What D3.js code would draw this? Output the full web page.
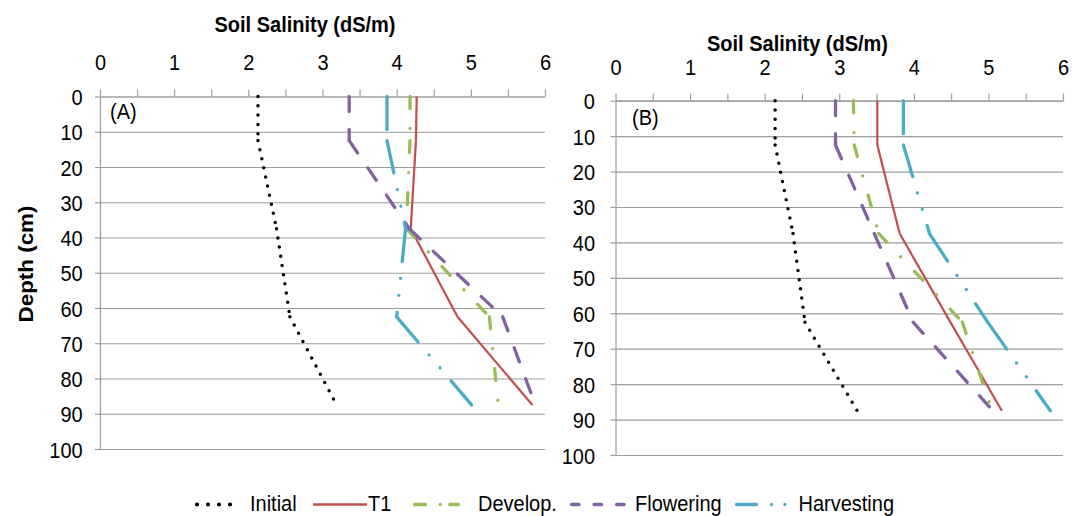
<!DOCTYPE html>
<html lang="en">
<head>
  <meta charset="utf-8">
  <script src="https://d3js.org/d3.v7.min.js"></script>
  <style>
    body { margin: 0; background: #fff; }
    svg text { font-family: "Liberation Sans", Arial, sans-serif; fill: #000; }
  </style>
</head>
<body>
  <svg width="1072" height="516"></svg>
  <script>
    // depths (cm) where salinity was sampled
    var depth = [0, 12.5, 37.5, 62.5, 87.5];
    var xTicks = [0, 1, 2, 3, 4, 5, 6];
    var yTicks = [0, 10, 20, 30, 40, 50, 60, 70, 80, 90, 100];
    var seriesNames = ["Initial", "T1", "Develop.", "Flowering", "Harvesting"];

    // panel A values (dS/m)
    var initialA = [2.13, 2.13, 2.38, 2.56, 3.19];
    var t1A = [4.27, 4.26, 4.19, 4.82, 5.83];
    var developA = [4.18, 4.18, 4.13, 5.25, 5.37];
    var floweringA = [3.36, 3.36, 4.17, 5.43, 5.87];
    var harvestingA = [3.87, 3.87, 4.12, 4.00, 5.01];

    // panel B values (dS/m)
    var initialB = [2.14, 2.14, 2.38, 2.54, 3.24];
    var t1B = [3.51, 3.51, 3.81, 4.49, 5.18];
    var developB = [3.19, 3.20, 3.53, 4.65, 5.05];
    var floweringB = [2.95, 2.95, 3.47, 3.99, 5.06];
    var harvestingB = [3.86, 3.86, 4.21, 4.99, 5.83];

    var colors = ["#000000", "#C0504D", "#9BBB59", "#8064A2", "#4BACC6"];
    var widths = [3.5, 2.2, 3.3, 3.3, 3.3];
    var dashes = ["0,9.3", null, "12,20,0.01,20", "15,18", "33,17,0.01,17,0.01,17"];
    var grid = "#9d9d9d";
    var stretch = 1.12; // text in the picture is a bit taller than wide

    var svg = d3.select("svg");

    var panels = [
      { series: [initialA, t1A, developA, floweringA, harvestingA], left: 100, right: 545, top: 96.5, bottom: 449,
        titleX: 305, titleY: 32, tickY: 70, labelGap: 17.3, tag: "(A)", tagX: 110, tagY: 119 },
      { series: [initialB, t1B, developB, floweringB, harvestingB], left: 615.5, right: 1063, top: 100.7, bottom: 455,
        titleX: 797.5, titleY: 51, tickY: 75, labelGap: 20.5, tag: "(B)", tagX: 632, tagY: 125 }
    ];

    panels.forEach(function (p) {
      var x = d3.scaleLinear().domain([0, 6]).range([p.left, p.right]);
      var y = d3.scaleLinear().domain([0, 100]).range([p.top, p.bottom]);
      var g = svg.append("g");

      // horizontal gridlines
      g.append("g").attr("transform", "translate(" + p.left + ",0)")
        .call(d3.axisLeft(y).tickValues(yTicks).tickSize(-(p.right - p.left)).tickFormat(""))
        .call(function (a) { a.select(".domain").remove(); a.selectAll("line").attr("stroke", grid).attr("stroke-width", 1.2); });

      // y axis with labels
      g.append("g").attr("transform", "translate(" + p.left + ",0)")
        .call(d3.axisLeft(y).tickValues(yTicks).tickSize(5).tickSizeOuter(0))
        .call(function (a) {
          a.select(".domain").attr("stroke", grid).attr("stroke-width", 1.2);
          a.selectAll("line").attr("stroke", grid).attr("stroke-width", 1.2);
          a.selectAll("text").attr("x", null).attr("dy", null)
            .attr("font-size", 20).attr("text-anchor", "end")
            .attr("transform", "translate(" + (-p.labelGap) + ",8) scale(1," + stretch + ")");
        });

      // x axis on top, minor ticks every 0.5
      g.append("g").attr("transform", "translate(0," + p.top + ")")
        .call(d3.axisTop(x).tickValues(d3.range(0, 6.01, 0.5)).tickSize(7).tickSizeOuter(0).tickFormat(""))
        .call(function (a) {
          a.select(".domain").attr("stroke", grid).attr("stroke-width", 1.2);
          a.selectAll("line").attr("stroke", grid).attr("stroke-width", 1.2);
        });
      g.append("g").attr("transform", "translate(0," + p.top + ")")
        .call(d3.axisTop(x).tickValues(xTicks).tickSize(0).tickFormat(d3.format("d")))
        .call(function (a) {
          a.select(".domain").remove();
          a.selectAll("text").attr("y", null).attr("dy", null).attr("font-size", 20)
            .attr("transform", "translate(0," + (p.tickY - p.top) + ") scale(1," + stretch + ")");
        });

      g.append("text").attr("font-size", 20).attr("font-weight", "bold").attr("text-anchor", "middle")
        .attr("transform", "translate(" + p.titleX + "," + p.titleY + ") scale(1," + stretch + ")")
        .text("Soil Salinity (dS/m)");

      g.append("text").attr("font-size", 20)
        .attr("transform", "translate(" + p.tagX + "," + p.tagY + ") scale(1," + stretch + ")")
        .text(p.tag);

      // series, the dash pattern restarts at each vertex as in the source
      var line = d3.line().x(function (d) { return x(d[0]); }).y(function (d) { return y(d[1]); });
      p.series.forEach(function (vals, i) {
        var pts = vals.map(function (v, k) { return [v, depth[k]]; });
        g.append("g").selectAll("path").data(d3.pairs(pts)).enter().append("path")
          .attr("d", line)
          .attr("fill", "none")
          .attr("stroke", colors[i])
          .attr("stroke-width", widths[i])
          .attr("stroke-linecap", dashes[i] ? "round" : "butt")
          .attr("stroke-dasharray", dashes[i]);
      });
    });

    svg.append("text").attr("font-size", 20).attr("font-weight", "bold").attr("text-anchor", "middle")
      .attr("transform", "translate(32.5,264) rotate(-90) scale(" + stretch + ",1)")
      .text("Depth (cm)");

    // legend
    var legendX = [[197, 231, 250], [313, 367, 368], [414.6, 458.4, 478], [571.6, 625, 635], [736.6, 786, 798.5]];
    var legendDash = ["0,11", null, "11,14.6,0.01,9.6,11,20", "7.5,15", "20,15,0.01,13.3,0.01,20"];
    var legendW = [4.2, 2.6, 3.3, 3.3, 3.3];
    var leg = svg.append("g").selectAll("g").data(seriesNames).enter().append("g");
    leg.append("line")
      .attr("x1", function (d, i) { return legendX[i][0]; })
      .attr("x2", function (d, i) { return legendX[i][1]; })
      .attr("y1", 504.5).attr("y2", 504.5)
      .attr("stroke", function (d, i) { return colors[i]; })
      .attr("stroke-width", function (d, i) { return legendW[i]; })
      .attr("stroke-linecap", function (d, i) { return legendDash[i] ? "round" : "butt"; })
      .attr("stroke-dasharray", function (d, i) { return legendDash[i]; });
    leg.append("text").attr("font-size", 20)
      .attr("transform", function (d, i) { return "translate(" + legendX[i][2] + ",511) scale(1," + stretch + ")"; })
      .text(function (d) { return d; });
  </script>
</body>
</html>
